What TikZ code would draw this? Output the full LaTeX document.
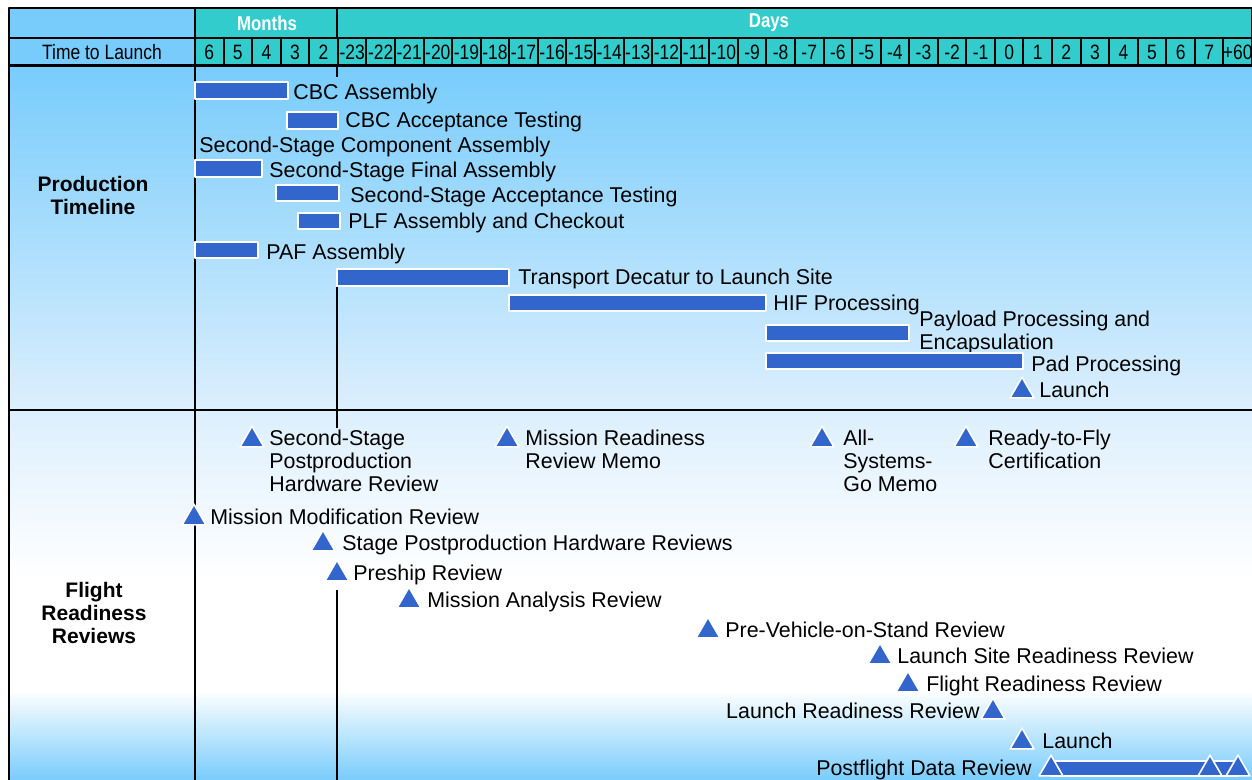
\documentclass[tikz,border=0pt]{standalone}
\usepackage{fontspec}
\setmainfont{Liberation Sans}
\newfontfamily\narrowfont[FakeStretch=0.84]{Liberation Sans}
\usetikzlibrary{shapes.geometric}
\definecolor{barblue}{RGB}{51,102,204}
\definecolor{hteal}{RGB}{51,204,204}
\definecolor{hblue}{RGB}{120,204,252}
\definecolor{pale}{RGB}{220,239,253}
\begin{document}
\begin{tikzpicture}[x=0.5pt,y=-0.5pt,line join=round,font=\fontsize{10.7}{11.5}\selectfont,
	bar/.style={fill=barblue,draw=white,line width=0.8pt},
	ms/.style={regular polygon,regular polygon sides=3,minimum size=13.8pt,inner sep=0pt,fill=barblue,draw=white,line width=0.8pt},
	lbl/.style={anchor=north west,inner sep=0pt,align=left},
	lblr/.style={anchor=north east,inner sep=0pt,align=right},
	hcell/.style={fill=hteal,draw=black,line width=1pt},
	lcell/.style={fill=hblue,draw=black,line width=1pt},
	head/.style={font=\narrowfont\fontsize{10.4}{12}\selectfont,inner sep=0pt},
	side/.style={font=\bfseries\fontsize{10.5}{11.5}\selectfont,align=center,inner sep=0pt}]
	\useasboundingbox (0,0) rectangle (1252,780);
	% backgrounds
	\shade[top color=hblue,bottom color=pale] (9,66) rectangle (1252,410);
	\shade[top color=pale,bottom color=white] (9,410) rectangle (1252,580);
	\fill[white] (9,580) rectangle (1252,690);
	\shade[top color=white,bottom color=hblue] (9,690) rectangle (1252,780);
	% header
	\draw[lcell] (9,8) rectangle (195,38);
	\draw[lcell] (9,38) rectangle (195,66);
	\draw[hcell] (195,8) rectangle (337,38);
	\draw[hcell] (337,8) rectangle (1252,38);
	\node[head,text=white,font=\narrowfont\bfseries\fontsize{10}{12}\selectfont] (months) at (267,23) {Months};
	\node[head,text=white,font=\narrowfont\bfseries\fontsize{10}{12}\selectfont] (days) at (769,23) {Days};
	\node[head] (ttl) at (102,52) {Time to Launch};
	\foreach \n [count=\i from 0] in {6,5,4,3,2,-23,-22,-21,-20,-19,-18,-17,-16,-15,-14,-13,-12,-11,-10,-9,-8,-7,-6,-5,-4,-3,-2,-1,0,1,2,3,4,5,6,7,+60}{
		\draw[hcell] ({195+28.568*\i},38) rectangle ({195+28.568*(\i+1)},66);
		\node[head] (n\i) at ({195+28.568*(\i+0.5)},52) {\n};
	}
	\draw[line width=1.5pt] (9,66)--(1252,66);
	% frame
	\draw[line width=1pt] (9,8)--(9,780);
	\draw[line width=1pt] (195,66)--(195,780);
	\draw[line width=1pt] (9,410)--(1252,410);
	\draw[line width=1pt] (337,66)--(337,77);
	\draw[line width=1pt] (337,287)--(337,428);
	\draw[line width=1pt] (337,590)--(337,780);
	\node[side] (prod) at (93,195) {Production\\Timeline};
	\node[side] (frr) at (94,613) {Flight\\Readiness\\Reviews};
	% production timeline
	\draw[bar] (195,82) rectangle (288,99);
	\node[lbl] (cbca) at (293,84) {CBC Assembly};
	\draw[bar] (287,112) rectangle (338,129);
	\node[lbl] (cbct) at (345,112) {CBC Acceptance Testing};
	\node[lbl] (ssca) at (199,137) {Second-Stage Component Assembly};
	\draw[bar] (195,160) rectangle (262,177);
	\node[lbl] (ssfa) at (269,162) {Second-Stage Final Assembly};
	\draw[bar] (276,185) rectangle (339,201);
	\node[lbl] (ssat) at (350,187) {Second-Stage Acceptance Testing};
	\draw[bar] (298,213) rectangle (340,229);
	\node[lbl] (plf) at (348,213) {PLF Assembly and Checkout};
	\draw[bar] (195,242) rectangle (258,258);
	\node[lbl] (paf) at (266,244) {PAF Assembly};
	\draw[bar] (337,269) rectangle (509,286);
	\node[lbl] (trans) at (518,269) {Transport Decatur to Launch Site};
	\draw[bar] (509,295) rectangle (766,311);
	\node[lbl] (hif) at (773,295) {HIF Processing};
	\draw[bar] (766,325) rectangle (909,341);
	\node[lbl] (ppe) at (919,311) {Payload Processing and\\Encapsulation};
	\draw[bar] (766,353) rectangle (1023,369);
	\node[lbl] (pad) at (1031,356) {Pad Processing};
	\node[ms] (lt1) at (1022,391) {};
	\node[lbl] (launch) at (1039,382) {Launch};
	% flight readiness reviews
	\node[ms] (t1) at (252,440) {};
	\node[lbl] (sspr) at (269,430) {Second-Stage\\Postproduction\\Hardware Review};
	\node[ms] (t2) at (507,440) {};
	\node[lbl] (mrrm) at (525,430) {Mission Readiness\\Review Memo};
	\node[ms] (t3) at (822,440) {};
	\node[lbl] (asgm) at (843,430) {All-\\Systems-\\Go Memo};
	\node[ms] (t4) at (966,440) {};
	\node[lbl] (rtf) at (988,430) {Ready-to-Fly\\Certification};
	\node[ms] (t5) at (194,518) {};
	\node[lbl] (mmr) at (210,509) {Mission Modification Review};
	\node[ms] (t6) at (323,544) {};
	\node[lbl] (sphr) at (342,535) {Stage Postproduction Hardware Reviews};
	\node[ms] (t7) at (337,574) {};
	\node[lbl] (psr) at (353,565) {Preship Review};
	\node[ms] (t8) at (409,601) {};
	\node[lbl] (mar) at (427,592) {Mission Analysis Review};
	\node[ms] (t9) at (708,631) {};
	\node[lbl] (pvos) at (725,622) {Pre-Vehicle-on-Stand Review};
	\node[ms] (t10) at (880,657) {};
	\node[lbl] (lsrr) at (897,648) {Launch Site Readiness Review};
	\node[ms] (t11) at (908,685) {};
	\node[lbl] (flrr) at (926,676) {Flight Readiness Review};
	\node[ms] (t12) at (993,712) {};
	\node[lblr] (lrr) at (980,703) {Launch Readiness Review};
	\node[ms] (t13) at (1022,742) {};
	\node[lbl] (launchb) at (1042,733) {Launch};
	\draw[bar] (1051,761) rectangle (1238,776);
	\foreach \x [count=\k] in {1051,1210,1238}{
		\node[ms] (pf\k) at (\x,769) {};
	}
	\node[lblr] (pdr) at (1032,760) {Postflight Data Review};
\end{tikzpicture}
\end{document}
